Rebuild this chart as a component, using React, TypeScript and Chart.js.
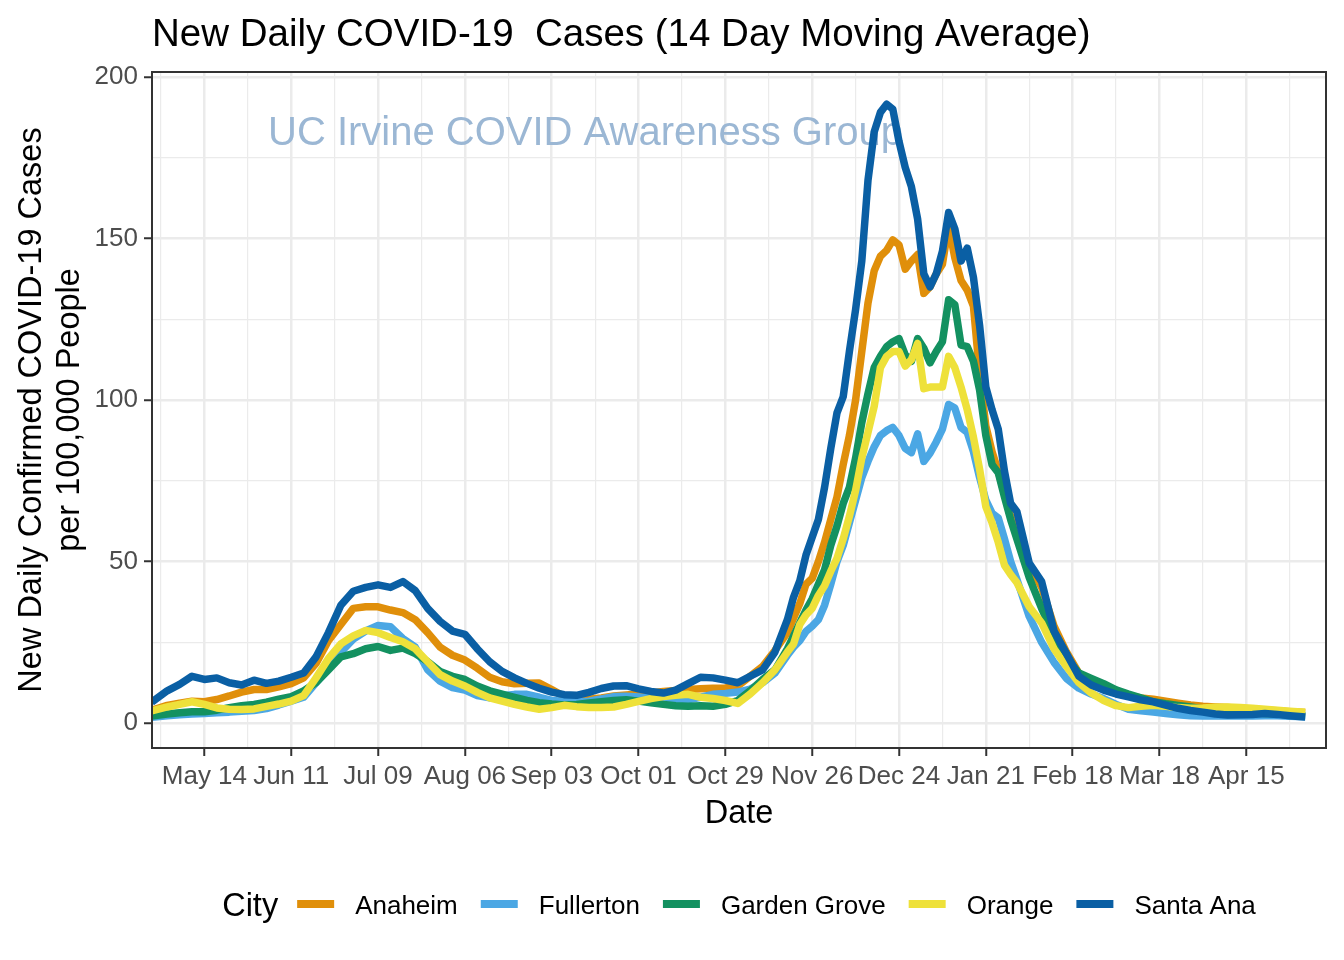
import React, { useEffect, useRef } from 'react';
import { Chart, registerables } from 'chart.js';

Chart.register(...registerables);

const FONT = '"Liberation Sans", Arial, Helvetica, sans-serif';

const titleText = 'New Daily COVID-19  Cases (14 Day Moving Average)';
const watermarkText = 'UC Irvine COVID Awareness Group';
const xTitle = 'Date';
const yTitleLines = ['New Daily Confirmed COVID-19 Cases', 'per 100,000 People'];
const legendTitle = 'City';

// x values: days since 2020-05-14
const days = [
  -17, -12, -8, -4, 0, 4, 8, 12, 16, 20, 24, 28, 32, 36, 40, 44, 48, 52, 56, 60, 64, 68, 72, 76, 80, 84,
  88, 92, 96, 100, 104, 108, 112, 116, 120, 124, 128, 132, 136, 140, 144, 148, 152, 156, 160, 164, 168,
  172, 176, 180, 184, 188,
  190, 192, 194, 196, 198, 200, 202, 204, 206, 208, 210, 212, 214, 216, 218, 220, 222, 224, 226, 228,
  230, 232, 234, 236, 238, 240, 242, 244, 246, 248, 250, 252, 254, 256, 258, 260, 262,
  266, 270, 274, 278, 282, 286, 290, 294, 298, 302, 306, 310, 314, 318, 322, 326, 330, 334, 338, 342,
  346, 350, 355,
];

const tickDays = [0, 28, 56, 84, 112, 140, 168, 196, 224, 252, 280, 308, 336];
const tickLabels = ['May 14', 'Jun 11', 'Jul 09', 'Aug 06', 'Sep 03', 'Oct 01', 'Oct 29', 'Nov 26', 'Dec 24', 'Jan 21', 'Feb 18', 'Mar 18', 'Apr 15'];
const yTicks = [0, 50, 100, 150, 200];

const cities = ['Anaheim', 'Fullerton', 'Garden Grove', 'Orange', 'Santa Ana'];
const cityColors = ['#E08F0A', '#4BA7E4', '#139160', '#EEE13A', '#0A5FA4'];

const anaheim = [
  4.0, 5.5, 6.2, 6.8, 6.6, 7.3, 8.4, 9.6, 10.4, 10.4, 11.2, 12.2, 14.0, 18.5, 25.5, 30.5, 35.5, 36.0, 36.0, 35.0,
  34.2, 32.0, 28.0, 23.5, 21.0, 19.5, 17.0, 14.2, 12.8, 12.2, 12.3, 12.4, 10.4, 8.2, 7.5, 7.4, 7.8, 8.4, 8.7, 9.0,
  9.3, 9.8, 10.1, 10.4, 10.6, 10.8, 10.9, 11.5, 14.5, 17.5, 22.5, 28.0,
  32.5, 37, 43, 44.8, 50, 56, 63, 70, 80, 89, 100, 115, 130, 140, 144.5, 146.3, 149.5, 148, 140.5, 143,
  145, 133, 135, 139, 142, 154, 144, 137, 134, 129, 108, 92, 84, 78, 71, 64, 60,
  49, 42, 30, 22, 15.5, 12, 10.5, 9.5, 8.5, 7.8, 7.4, 6.8, 6.2, 5.6, 5.2, 5.0, 4.8, 4.5, 4.3, 4.0, 3.8, 3.5, 3.3,
];

const fullerton = [
  1.8, 2.3, 2.6, 2.8, 3.0, 3.2, 3.4, 3.7, 3.9, 4.5, 5.6, 6.8, 8.0, 12.5, 17.0, 22.0, 26.0, 28.5, 30.2, 29.8,
  26.2, 23.5, 16.5, 13.0, 11.0, 10.2, 8.5, 7.8, 8.5, 8.9, 8.9, 8.0, 7.0, 6.8, 6.6, 6.8, 7.5, 8.2, 8.3, 8.1,
  7.8, 7.8, 7.3, 7.2, 8.0, 8.9, 9.2, 9.6, 10.5, 12.5, 15.5, 21.0,
  23.5, 25.5, 28.4, 30, 32, 36.5, 43, 50, 55, 62, 69, 76, 81, 85.5, 89, 90.5, 91.5, 89, 85, 83.7,
  89.5, 81, 83.5, 87, 91, 98.6, 97.5, 91.5, 90, 84, 76, 69, 65, 63.5, 57, 50, 44.5,
  33, 25, 18.8, 13.8, 10.8, 9.0, 7.6, 5.8, 4.3, 3.8, 3.4, 3.0, 2.6, 2.3, 2.2, 2.2, 2.2, 2.2, 2.2, 2.3, 2.3, 2.1, 2.0,
];

const gardenGrove = [
  2.2, 2.8, 3.2, 3.5, 3.5, 4.0, 4.8, 5.4, 5.8, 6.5, 7.4, 8.2, 10.0, 12.5, 16.5, 20.5, 21.5, 23.0, 23.7, 22.5,
  23.2, 21.5, 19.0, 16.0, 14.5, 13.5, 11.5, 10.0, 9.0, 8.0, 7.0, 6.3, 5.9, 5.6, 5.8, 6.2, 6.6, 7.0, 7.2, 6.8,
  6.3, 5.8, 5.4, 5.2, 5.4, 5.2, 5.8, 7.0, 10.0, 13.5, 16.5, 23.0,
  27, 31, 35, 38.5, 43, 47.5, 55, 61, 68, 73, 82, 93, 102, 110, 113.5, 116.5, 118, 119, 114, 112,
  119, 116, 111.5, 115, 118, 131, 129.5, 117, 116.5, 112, 103, 89, 80, 77.5, 70, 63, 57,
  45, 35.5, 27, 20, 15.5, 13.8, 12.2, 10.3, 9.0, 7.8, 6.6, 6.0, 5.5, 5.0, 4.4, 4.0, 3.6, 3.3, 3.1, 3.0, 2.8, 2.5, 2.3,
];

const orange = [
  3.8, 5.0, 5.8, 6.6, 5.8, 4.7, 4.3, 4.2, 4.4, 5.2, 5.9, 6.8, 8.5, 14.0, 20.0, 24.5, 27.0, 28.7, 28.0, 26.5,
  25.2, 23.0, 19.0, 15.0, 13.0, 11.5, 9.5, 7.8, 6.8, 5.8, 5.0, 4.3, 4.8, 5.5, 5.1, 4.8, 4.8, 5.0, 5.8, 6.7,
  7.6, 8.2, 8.6, 8.9, 8.0, 7.6, 7.0, 6.1, 9.0, 12.5, 16.5, 22.0,
  24.5, 30.5, 33.5, 35.5, 39.5, 42.5, 47, 51, 57, 64, 72, 82, 90, 98, 110, 113.5, 115, 115, 110.5, 112.5,
  117.5, 103.5, 104, 104, 104, 113.5, 110, 104, 97, 88.5, 78.5, 67, 62, 56, 48.9, 46, 43.5,
  36, 31, 23, 17.5, 12.5, 9.3, 7.0, 5.4, 4.8, 5.2, 5.5, 5.2, 4.8, 4.6, 4.7, 4.9, 5.0, 4.8, 4.6, 4.3, 4.0, 3.7, 3.4,
];

const santaAna = [
  6.5, 10.0, 12.0, 14.5, 13.5, 14.0, 12.5, 11.8, 13.3, 12.3, 13.0, 14.2, 15.5, 20.5, 28.0, 36.5, 40.8, 42.0, 42.8, 42.0,
  43.8, 41.0, 35.5, 31.5, 28.5, 27.5, 23.0, 19.0, 16.0, 14.0, 12.3, 10.8, 9.6, 8.8, 8.6, 9.5, 10.7, 11.5, 11.6, 10.6,
  9.8, 9.3, 10.2, 12.2, 14.2, 14.0, 13.3, 12.5, 14.5, 16.5, 22.0, 32.0,
  39, 44, 52, 57.5, 63, 73, 85, 96, 101, 115, 128, 143, 168, 183, 189, 191.5, 190, 180, 172, 166,
  156, 139, 135, 139, 146, 158, 153, 143, 147, 138, 123, 104, 97, 91, 78, 68, 65.5,
  49.5, 43.8, 28.5, 21.5, 14.5, 11.8, 10.2, 9.0, 8.1, 7.2, 6.6, 5.6, 4.6, 3.9, 3.4, 2.8, 2.5, 2.6, 2.7, 3.0, 2.7, 2.3, 1.9,
];

const series = [anaheim, fullerton, gardenGrove, orange, santaAna];

const LINE_W = 7.5;

const xGridDays = [-14, ...tickDays.flatMap((d) => [d, d + 14])];
const yGridValues = yTicks.flatMap((v, i) => (i < yTicks.length - 1 ? [v, v + 25] : [v]));

const overlayPlugin = {
  id: 'overlay',
  beforeDatasetsDraw(chart: any) {
    const { ctx, chartArea } = chart;
    ctx.save();
    ctx.font = `40px ${FONT}`;
    ctx.fillStyle = '#9BB7D4';
    ctx.textAlign = 'left';
    ctx.textBaseline = 'alphabetic';
    ctx.fillText(watermarkText, chartArea.left + 116, 145);
    ctx.restore();
  },
  afterDatasetsDraw(chart: any) {
    const { ctx, chartArea } = chart;
    ctx.save();
    ctx.strokeStyle = '#333333';
    ctx.lineWidth = 2;
    ctx.strokeRect(chartArea.left, chartArea.top, chartArea.right - chartArea.left, chartArea.bottom - chartArea.top);
    ctx.restore();
  },
  afterDraw(chart: any) {
    const { ctx, chartArea } = chart;
    const midX = (chartArea.left + chartArea.right) / 2;
    const midY = (chartArea.top + chartArea.bottom) / 2;
    ctx.save();
    ctx.fillStyle = '#000000';
    ctx.textBaseline = 'alphabetic';
    // title
    ctx.font = `38.5px ${FONT}`;
    ctx.textAlign = 'left';
    ctx.fillText(titleText, chartArea.left, 46);
    // x title
    ctx.font = `32.5px ${FONT}`;
    ctx.textAlign = 'center';
    ctx.fillText(xTitle, midX, 823);
    // y title
    const ys = [41, 79];
    yTitleLines.forEach((line, i) => {
      ctx.save();
      ctx.translate(ys[i], midY);
      ctx.rotate(-Math.PI / 2);
      ctx.textAlign = 'center';
      ctx.fillText(line, 0, 0);
      ctx.restore();
    });
    // legend
    const ds = chart.data.datasets;
    const keyW = 37, keyGap = 21, itemGap = 23, titleGap = 19;
    ctx.font = `32.5px ${FONT}`;
    const titleW = ctx.measureText(legendTitle).width;
    ctx.font = `26px ${FONT}`;
    const labelWs = ds.map((d: any) => ctx.measureText(d.label).width);
    let total = titleW + titleGap;
    labelWs.forEach((w: number, i: number) => {
      total += keyW + keyGap + w + (i < labelWs.length - 1 ? itemGap : 0);
    });
    let x = midX - total / 2;
    const ly = 904;
    ctx.textAlign = 'left';
    ctx.font = `32.5px ${FONT}`;
    ctx.fillText(legendTitle, x, ly + 12);
    x += titleW + titleGap;
    ctx.font = `26px ${FONT}`;
    ds.forEach((d: any, i: number) => {
      ctx.strokeStyle = d.borderColor;
      ctx.lineWidth = 8;
      ctx.lineCap = 'butt';
      ctx.beginPath();
      ctx.moveTo(x, ly);
      ctx.lineTo(x + keyW, ly);
      ctx.stroke();
      x += keyW + keyGap;
      ctx.fillStyle = '#000000';
      ctx.fillText(d.label, x, ly + 9.8);
      x += labelWs[i] + itemGap;
    });
    ctx.restore();
  },
};

export default function App() {
  const ref = useRef<HTMLCanvasElement>(null);
  useEffect(() => {
    const canvas = ref.current;
    if (!canvas) return;
    const chart = new Chart(canvas, {
      type: 'line',
      data: {
        datasets: cities.map((c, i) => ({
          label: c,
          data: series[i].map((v, j) => ({ x: days[j], y: v })),
          borderColor: cityColors[i],
          backgroundColor: cityColors[i],
          borderWidth: LINE_W,
          pointRadius: 0,
          pointHoverRadius: 0,
          tension: 0,
          fill: false,
          borderJoinStyle: 'round',
          borderCapStyle: 'butt',
          order: cities.length - i,
          clip: 0,
        })),
      },
      options: {
        responsive: false,
        animation: false,
        devicePixelRatio: 1,
        events: [],
        layout: { padding: { top: 72, right: 18, bottom: 0, left: 0 } },
        plugins: {
          legend: { display: false },
          title: { display: false },
          tooltip: { enabled: false },
        },
        scales: {
          x: {
            type: 'linear',
            min: -16.9,
            max: 361.7,
            bounds: 'data',
            afterBuildTicks: (s: any) => {
              s.ticks = xGridDays.map((v) => ({ value: v }));
            },
            afterFit: (s: any) => {
              s.height = 212;
            },
            ticks: {
              autoSkip: false,
              maxRotation: 0,
              minRotation: 0,
              padding: 5,
              color: '#4D4D4D',
              font: { family: FONT, size: 26 },
              callback: (v: any) => {
                const i = tickDays.indexOf(Number(v));
                return i >= 0 ? tickLabels[i] : '';
              },
            },
            grid: {
              color: '#EBEBEB',
              lineWidth: (c: any) => (c.tick && c.tick.value % 28 === 0 ? 2.5 : 1.2),
              drawTicks: true,
              tickLength: 8,
              tickColor: (c: any) => (c.tick && c.tick.value % 28 === 0 ? '#333333' : 'rgba(0,0,0,0)'),
              tickWidth: 2,
            },
            border: { display: false },
          },
          y: {
            type: 'linear',
            min: -7.7,
            max: 201.5,
            bounds: 'data',
            afterBuildTicks: (s: any) => {
              s.ticks = yGridValues.map((v) => ({ value: v }));
            },
            afterFit: (s: any) => {
              s.width = 152;
            },
            ticks: {
              autoSkip: false,
              padding: 6,
              color: '#4D4D4D',
              font: { family: FONT, size: 26 },
              callback: (v: any) => (yTicks.indexOf(Number(v)) >= 0 ? String(v) : ''),
            },
            grid: {
              color: '#EBEBEB',
              lineWidth: (c: any) => (c.tick && c.tick.value % 50 === 0 ? 2.5 : 1.2),
              drawTicks: true,
              tickLength: 8,
              tickColor: (c: any) => (c.tick && c.tick.value % 50 === 0 ? '#333333' : 'rgba(0,0,0,0)'),
              tickWidth: 2,
            },
            border: { display: false },
          },
        },
      },
      plugins: [overlayPlugin],
    } as any);
    return () => chart.destroy();
  }, []);
  return (
    <div style={{ position: 'fixed', left: 0, top: 0, width: 1344, height: 960, background: '#ffffff' }}>
      <canvas ref={ref} width={1344} height={960} style={{ display: 'block', width: 1344, height: 960 }} />
    </div>
  );
}
